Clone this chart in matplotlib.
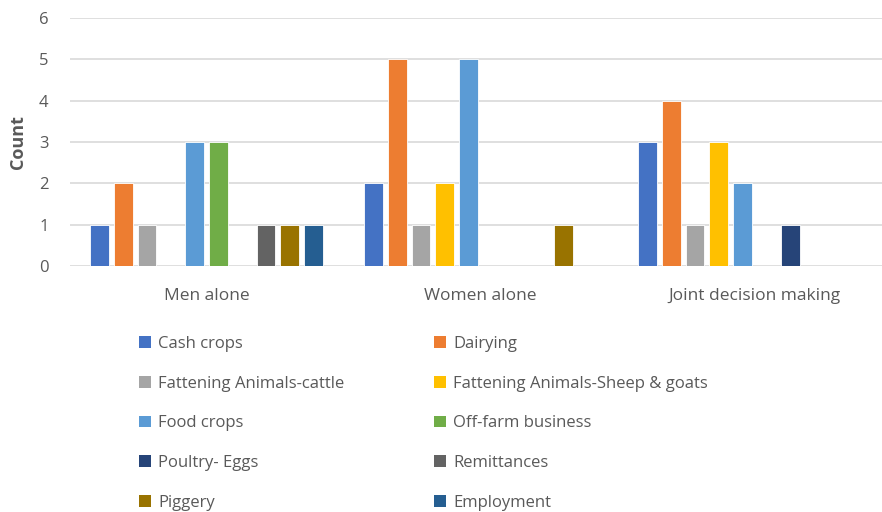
import numpy as np
import matplotlib
matplotlib.use("Agg")
import matplotlib.pyplot as plt
from matplotlib.patches import Patch

plt.rcParams['font.family'] = ['Open Sans', 'DejaVu Sans']

# data
categorias = ["Men alone", "Women alone", "Joint decision making"]
series = ["Cash crops", "Dairying", "Fattening Animals-cattle",
          "Fattening Animals-Sheep & goats", "Food crops", "Off-farm business",
          "Poultry- Eggs", "Remittances", "Piggery", "Employment"]
valores = {
    "Cash crops": [1, 2, 3],
    "Dairying": [2, 5, 4],
    "Fattening Animals-cattle": [1, 1, 1],
    "Fattening Animals-Sheep & goats": [0, 2, 3],
    "Food crops": [3, 5, 2],
    "Off-farm business": [3, 0, 0],
    "Poultry- Eggs": [0, 0, 1],
    "Remittances": [1, 0, 0],
    "Piggery": [1, 1, 0],
    "Employment": [1, 0, 0],
}
cores = ["#4472C4", "#ED7D31", "#A5A5A5", "#FFC000", "#5B9BD5",
         "#70AD47", "#264478", "#636363", "#997300", "#255E91"]

cinza = "#595959"

fig = plt.figure(figsize=(8.82, 5.12), dpi=100)
ax = fig.add_axes([69.5 / 882, 246 / 512, 822 / 882, 248 / 512])

x = np.arange(len(categorias))
passo = 0.0869
largura = 0.069
for i, s in enumerate(series):
    desloc = (i - (len(series) - 1) / 2) * passo
    ax.bar(x + desloc, valores[s], largura, color=cores[i],
           edgecolor="white", linewidth=0.6, zorder=3)

ax.set_xlim(-0.5, len(categorias) - 0.5)
ax.set_ylim(0, 6)
ax.set_yticks(range(7))
ax.set_xticks(x)
ax.set_xticklabels(categorias, fontsize=12.5)
ax.tick_params(axis="both", length=0, colors=cinza)
ax.tick_params(axis="y", labelsize=12, pad=15)
ax.tick_params(axis="x", pad=16)
ax.grid(axis="y", color="#D9D9D9", linewidth=1.2, zorder=0)
for lado in ["top", "right", "left", "bottom"]:
    ax.spines[lado].set_visible(False)
ax.set_ylabel("Count", fontsize=13, fontweight="bold", color=cinza, labelpad=9)

# legenda em duas colunas
handles = [Patch(facecolor=c, edgecolor="none") for c in cores]
for col, xpos in [(0, 139 / 882), (1, 434 / 882)]:
    idx = list(range(col, len(series), 2))
    fig.legend([handles[k] for k in idx], [series[k] for k in idx],
               loc="upper left", bbox_to_anchor=(xpos, 1 - 336 / 512),
               frameon=False, fontsize=12, labelcolor=cinza,
               handlelength=0.7, handleheight=0.7, handletextpad=0.45,
               labelspacing=1.42, borderpad=0, borderaxespad=0)

fig.savefig("out.png", dpi=100)
